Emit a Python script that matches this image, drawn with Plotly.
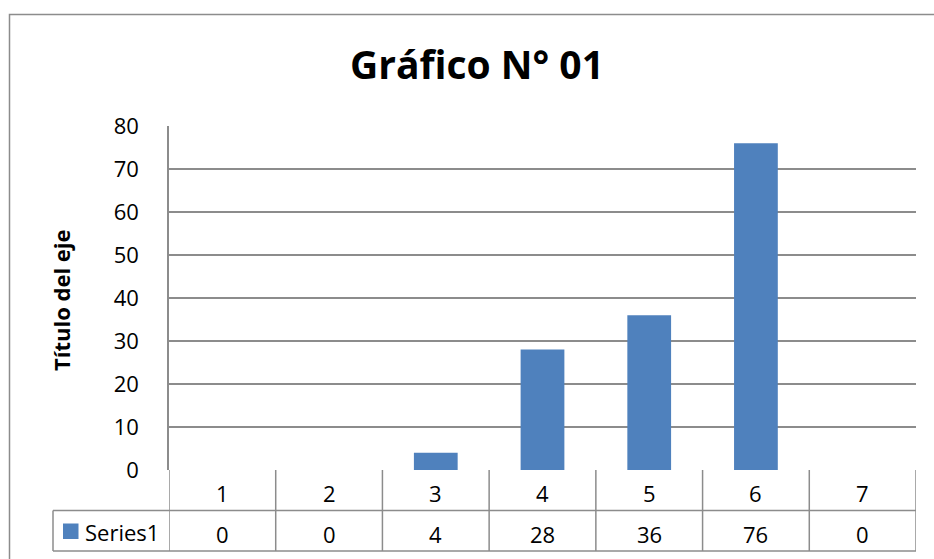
import plotly.graph_objects as go

categories = [1, 2, 3, 4, 5, 6, 7]
values = [0, 0, 4, 28, 36, 76, 0]
series_name = "Series1"
title_text = "Gráfico N° 01"
y_title = "Título del eje"
y_ticks = [0, 10, 20, 30, 40, 50, 60, 70, 80]

W, H = 934, 559
L, R, T, B = 169, 916, 126, 470  # plot area in pixels
FONT = "Open Sans"
GRID = "#8c8c8c"
BAR = "#4F81BD"

def px(x):
    return (x - L) / (R - L)

def py(y):
    return (B - y) / (B - T)

fig = go.Figure()
fig.add_trace(go.Bar(x=categories, y=values, name=series_name,
                     marker=dict(color=BAR, line=dict(width=0)), width=0.41))

shapes = []
# outer chart border
shapes.append(dict(type="rect", xref="paper", yref="paper",
                   x0=px(9.5), x1=px(940), y0=py(14.5), y1=py(570),
                   line=dict(color="#8c8c8c", width=1.5), layer="below"))
row1 = 510.5
row2 = 551
for yy in (row1, row2):
    shapes.append(dict(type="line", xref="paper", yref="paper",
                       x0=px(53), x1=1, y0=py(yy), y1=py(yy),
                       line=dict(color=GRID, width=1.5)))
shapes.append(dict(type="line", xref="paper", yref="paper",
                   x0=px(53), x1=px(53), y0=py(row1), y1=py(row2),
                   line=dict(color=GRID, width=1.5)))
for i in range(len(categories) + 1):
    xv = categories[0] - 0.5 + i
    shapes.append(dict(type="line", xref="x", yref="paper",
                       x0=xv, x1=xv, y0=0, y1=py(row2),
                       line=dict(color=GRID, width=1.5)))
# legend swatch
shapes.append(dict(type="rect", xref="paper", yref="paper",
                   x0=px(63), x1=px(78.5), y0=py(539), y1=py(523.5),
                   fillcolor=BAR, line=dict(width=0)))

TXT = dict(family=FONT, size=22, color="#000")
annotations = []
for c, v in zip(categories, values):
    annotations.append(dict(x=c, y=py(493), xref="x", yref="paper", text=str(c),
                            xanchor="center", yanchor="middle",
                            showarrow=False, font=TXT))
    annotations.append(dict(x=c, y=py(534), xref="x", yref="paper", text=str(v),
                            xanchor="center", yanchor="middle",
                            showarrow=False, font=TXT))
annotations.append(dict(x=px(83), y=py(532), xref="paper", yref="paper", text=series_name,
                        xanchor="left", yanchor="middle", showarrow=False, font=TXT))
annotations.append(dict(x=px(61), y=py(300), xref="paper", yref="paper", text="<b>" + y_title + "</b>",
                        xanchor="center", yanchor="middle",
                        textangle=-90, showarrow=False,
                        font=dict(family=FONT, size=22, color="#000")))
annotations.append(dict(x=px(477), y=py(64), xref="paper", yref="paper", text="<b>" + title_text + "</b>",
                        xanchor="center", yanchor="middle",
                        showarrow=False, font=dict(family=FONT, size=39, color="#000")))

fig.update_layout(
    width=W, height=H,
    margin=dict(l=L, r=W - R, t=T, b=H - B, pad=0),
    paper_bgcolor="white", plot_bgcolor="white",
    showlegend=False,
    shapes=shapes, annotations=annotations,
    xaxis=dict(range=[0.5, 7.5], showticklabels=False, showgrid=False,
               zeroline=False, ticks="", showline=False, fixedrange=True),
    yaxis=dict(range=[0, 80], tickvals=y_ticks, showgrid=True, gridcolor=GRID, gridwidth=1.5,
               zeroline=False, showline=True, linecolor=GRID, linewidth=1.5,
               ticks="", ticklabelstandoff=24,
               tickfont=dict(family=FONT, size=22, color="#000")),
    font=dict(family=FONT),
)

fig.write_html("out.html")
